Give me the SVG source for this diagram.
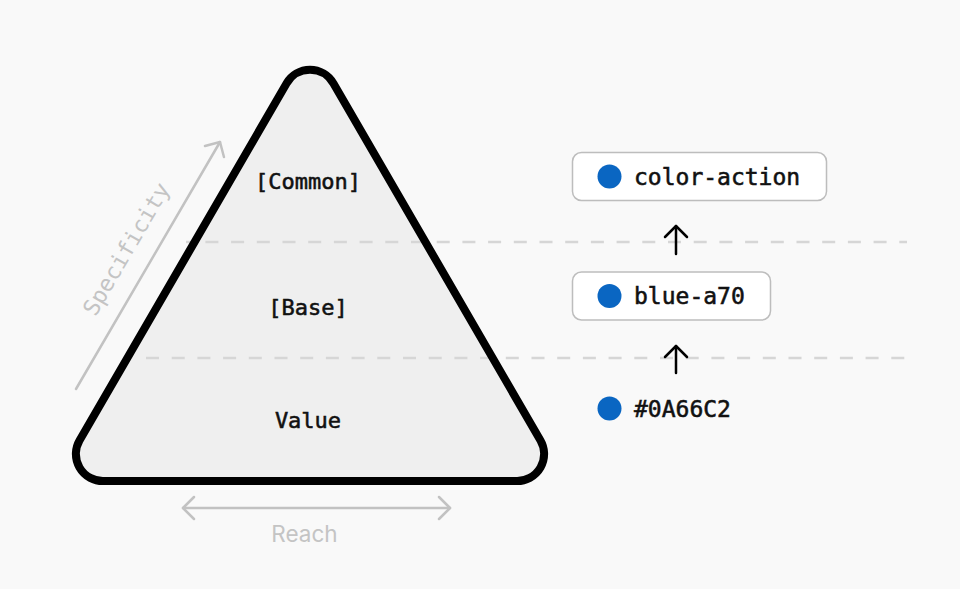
<svg xmlns="http://www.w3.org/2000/svg" width="960" height="589" viewBox="0 0 960 589">
  <defs>
    <style>
      .mono { font-family: "DejaVu Sans Mono", "Liberation Mono", monospace; }
      .lbl { font-size: 22px; fill: #111111; text-anchor: middle; stroke: #111111; stroke-width: 0.55; }
      .tok { font-size: 23px; fill: #111111; stroke: #111111; stroke-width: 0.55; }
      .dash { stroke: #d6d6d6; stroke-width: 2.5; stroke-dasharray: 13 12.7; fill: none; }
      .box { fill: #ffffff; stroke: #bdbdbd; stroke-width: 1.5; }
      .dot { fill: #0a66c2; }
      .conn { stroke: #000000; stroke-width: 2.5; fill: none; stroke-linecap: round; }
      .axis { stroke: #c2c2c2; stroke-width: 2.5; fill: none; stroke-linecap: round; }
      .axislbl { fill: #c4c4c4; font-size: 22.5px; }
    </style>
    <marker id="headBlack" viewBox="-13 -13 15 26" refX="0" refY="0" markerWidth="15" markerHeight="26" markerUnits="userSpaceOnUse" orient="auto">
      <path d="M-11,-11 L0,0 L-11,11" fill="none" stroke="#000000" stroke-width="2.5" stroke-linecap="round" stroke-linejoin="round"/>
    </marker>
    <marker id="headGray" viewBox="-13 -13 15 26" refX="0" refY="0" markerWidth="15" markerHeight="26" markerUnits="userSpaceOnUse" orient="auto-start-reverse">
      <path d="M-11,-11 L0,0 L-11,11" fill="none" stroke="#c2c2c2" stroke-width="2.5" stroke-linecap="round" stroke-linejoin="round"/>
    </marker>
    <path id="tri" d="M286.5,83.5 A27,27 0 0 1 333.5,83.5 L540.5,440.5 A27,27 0 0 1 517.2,481 L102.8,481 A27,27 0 0 1 79.5,440.5 Z"/>
  </defs>

  <rect x="0" y="0" width="960" height="589" fill="#f9f9f9"/>

  <g id="pyramid">
    <use href="#tri" fill="#efefef"/>
    <g id="layer-lines">
      <line class="dash" x1="186" y1="242" x2="907" y2="242" stroke-dashoffset="6.3"/>
      <line class="dash" x1="146" y1="358" x2="907" y2="358"/>
    </g>
    <use href="#tri" fill="none" stroke="#000000" stroke-width="8" stroke-linejoin="round"/>
    <text id="label-common" class="mono lbl" x="308" y="189">[Common]</text>
    <text id="label-base" class="mono lbl" x="308" y="315">[Base]</text>
    <text id="label-value" class="mono lbl" x="308" y="428">Value</text>
  </g>

  <g id="axis-specificity">
    <line class="axis" x1="76" y1="389" x2="220" y2="142" marker-end="url(#headGray)"/>
    <text class="mono axislbl" text-anchor="middle" transform="translate(133,253) rotate(-59.7)">Specificity</text>
  </g>

  <g id="axis-reach">
    <line class="axis" x1="183" y1="508" x2="450" y2="508" marker-start="url(#headGray)" marker-end="url(#headGray)"/>
    <text class="axislbl" x="304.5" y="541.5" text-anchor="middle" font-family="Inter, 'Liberation Sans', sans-serif">Reach</text>
  </g>

  <g id="node-color-action">
    <rect class="box" x="572.5" y="152.5" width="254" height="48" rx="9"/>
    <circle class="dot" cx="609.5" cy="176.5" r="12"/>
    <text class="mono tok" x="634" y="185">color-action</text>
  </g>

  <g id="node-blue-a70">
    <rect class="box" x="572.5" y="272" width="198" height="48" rx="9"/>
    <circle class="dot" cx="609.5" cy="296" r="12"/>
    <text class="mono tok" x="634" y="304">blue-a70</text>
  </g>

  <g id="node-hex">
    <circle class="dot" cx="609.5" cy="408.5" r="12"/>
    <text class="mono tok" x="634" y="417">#0A66C2</text>
  </g>

  <g id="connectors">
    <line class="conn" x1="676" y1="254" x2="676" y2="226" marker-end="url(#headBlack)"/>
    <line class="conn" x1="676" y1="373" x2="676" y2="346" marker-end="url(#headBlack)"/>
  </g>
</svg>
